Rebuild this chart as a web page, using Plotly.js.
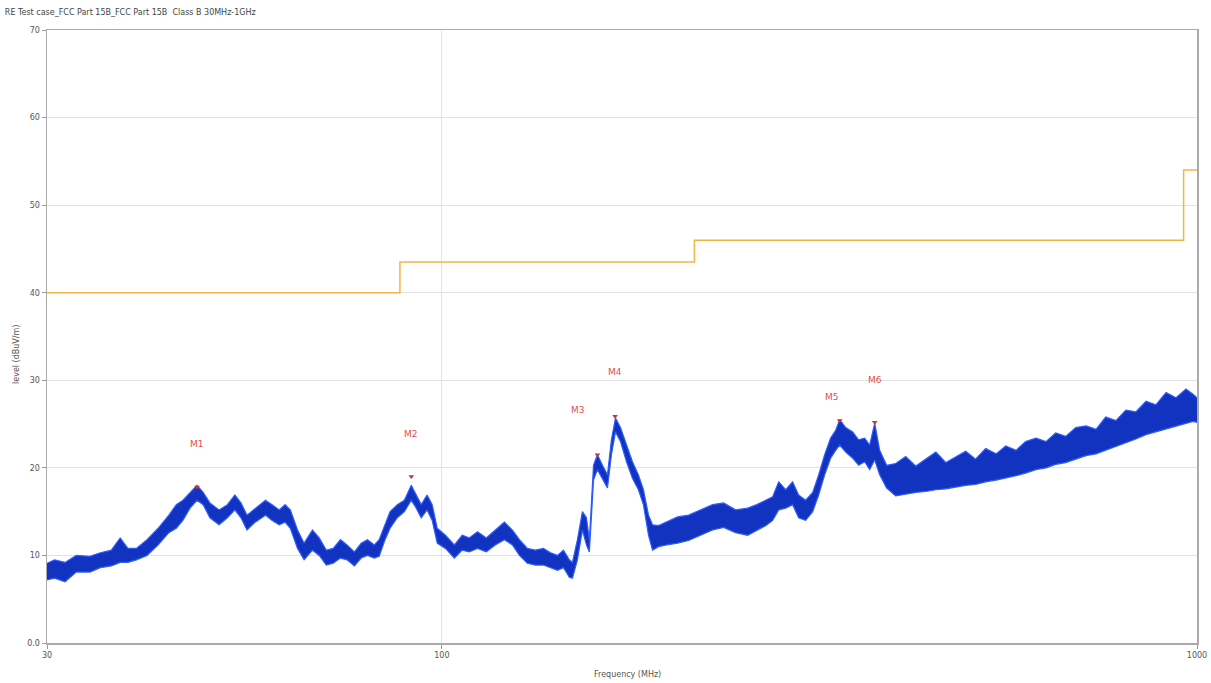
<!DOCTYPE html>
<html>
<head>
<meta charset="utf-8">
<script src="https://cdn.plot.ly/plotly-3.0.1.min.js"></script>
<style>html,body{margin:0;padding:0;background:#fff;}#chart{width:1211px;height:683px;}</style>
</head>
<body>
<div id="chart"></div>
<script>
// Measured trace: frequency (MHz), top and bottom of the noise band (dBuV/m)
const freq = [30,30.7,31.7,32.8,34.2,35.3,36.5,37.5,38.4,39.4,40.7,42.1,43.5,44.5,45.4,46.4,47.4,48.3,49.3,50.7,52.0,53.2,54.2,55.2,56.6,58.4,59.6,60.9,62.0,63.0,64.4,65.7,67.4,68.8,70.3,71.8,73.4,74.9,76.6,78.2,79.7,81.4,82.6,84.1,85.4,87.3,89.2,91.1,92.5,93.9,95.6,97.1,98.6,101.1,103.9,106.4,108.7,111.5,114.5,117.7,121.0,124.0,126.7,129.8,133.0,136.3,139.3,142.3,144.9,147.5,148.9,151.2,153.5,155.4,156.8,158.8,160.7,163.2,165.7,167.7,169.8,172.4,175.6,178.8,182.1,184.9,187.8,190.1,193.6,198.4,205.2,212.2,220.1,228.3,236.1,244.9,254.1,261.2,268.4,274.2,279.3,285.3,291.4,296.8,303.2,309.8,315.5,321.3,327.2,332.3,336.4,342.6,350.0,356.4,363.0,368.6,374.3,380.0,388.2,399.0,411.4,424.3,437.4,451,465,479,494,509,525,542,558,576,593,612,631,650,670,691,713,735,757,781,805,830,856,882,910,938,967,988,1000];
const levelTop = [9.1,9.5,9.2,10.0,9.9,10.3,10.6,12.0,10.8,10.8,11.8,13.1,14.6,15.8,16.3,17.1,18.0,17.2,16.0,15.2,15.8,16.9,16.0,14.6,15.4,16.3,15.8,15.2,15.8,15.2,12.9,11.4,12.9,12.0,10.6,10.8,11.8,11.2,10.4,11.4,11.8,11.2,11.8,13.5,15.0,15.8,16.3,18.0,16.9,15.8,16.9,15.8,13.1,12.3,11.2,12.3,12.0,12.7,12.0,12.9,13.8,12.9,11.8,10.8,10.6,10.8,10.3,10.0,10.6,9.5,9.2,11.8,15.0,14.3,11.8,20.3,21.5,20.3,19.2,23.2,25.7,24.6,22.6,20.7,19.2,17.5,14.6,13.5,13.4,13.8,14.4,14.6,15.2,15.8,16.0,15.2,15.4,15.8,16.3,16.7,18.4,17.5,18.4,16.9,16.3,17.2,19.2,21.5,23.4,24.3,25.5,24.6,24.1,23.2,23.4,22.6,25.1,22.0,20.3,20.5,21.3,20.2,21.0,21.8,20.6,21.2,21.9,21.0,22.2,21.6,22.5,22.0,23.0,23.4,23.0,24.0,23.6,24.6,24.8,24.4,25.8,25.4,26.6,26.4,27.6,27.2,28.6,28.0,29.0,28.4,28.0];
const levelBottom = [7.2,7.4,7.0,8.1,8.1,8.6,8.8,9.2,9.2,9.5,10.0,11.2,12.6,13.1,14.0,15.4,16.3,15.8,14.3,13.5,14.3,15.2,14.3,12.9,13.8,14.6,14.0,13.5,13.8,13.1,10.8,9.5,10.6,10.0,8.9,9.1,9.7,9.5,8.8,9.7,10.0,9.7,9.9,11.8,13.1,14.3,15.0,16.3,15.4,14.3,15.2,14.0,11.4,10.8,9.7,10.6,10.4,10.8,10.4,11.2,11.8,11.2,10.0,9.1,8.9,8.9,8.6,8.3,8.6,7.5,7.4,9.5,12.9,11.2,10.4,18.6,19.8,18.8,17.7,21.5,24.1,23.0,20.7,18.8,17.5,15.8,12.3,10.6,11.0,11.2,11.4,11.7,12.3,12.9,13.2,12.6,12.3,12.9,13.4,14.0,15.2,15.4,15.8,14.3,14.0,15.0,16.9,19.2,21.1,22.0,22.6,21.8,21.1,20.3,20.7,19.8,20.9,19.2,17.7,16.8,17.0,17.2,17.3,17.5,17.6,17.8,18.0,18.1,18.4,18.6,18.8,19.1,19.4,19.8,20.0,20.4,20.6,21.0,21.4,21.6,22.0,22.5,22.9,23.3,23.8,24.1,24.5,24.8,25.1,25.3,25.2];

// FCC Part 15B Class B limit
const limitFreq = [30,88,88,216,216,960,960,1000];
const limitLevel = [40,40,43.5,43.5,46,46,54,54];

// Markers
const markerNames = ['M1','M2','M3','M4','M5','M6'];
const markerFreq = [47.4,91.1,160.7,169.6,336.4,374.3];
const markerLevel = [17.8,19.0,21.5,25.9,25.4,25.2];

// Axis ticks
const yTickVals = [0,10,20,30,40,50,60,70];
const yTickText = ['0.0','10','20','30','40','50','60','70'];
const xTickVals = [30,100,1000];
const xTickText = ['30','100','1000'];

const labelShift = [[0,43],[0,43],[-19,45],[0,44],[-8,24],[0,42]];

const traces = [
  {x: freq, y: levelBottom, type:'scatter', mode:'lines', line:{color:'#2f5cff', width:1.2}, hoverinfo:'skip', showlegend:false},
  {x: freq, y: levelTop, type:'scatter', mode:'lines', line:{color:'#2f5cff', width:1.2}, fill:'tonexty', fillcolor:'#1233c0', showlegend:false},
  {x: limitFreq, y: limitLevel, type:'scatter', mode:'lines', line:{color:'#f2b445', width:1.5}, showlegend:false},
  {x: markerFreq, y: markerLevel, type:'scatter', mode:'markers', marker:{symbol:'triangle-down', size:5, color:'#d03030'}, showlegend:false}
];

const annotations = markerNames.map((n,i)=>({
  x: Math.log10(markerFreq[i]), y: markerLevel[i], xref:'x', yref:'y', text:n, showarrow:false,
  xshift: labelShift[i][0], yshift: labelShift[i][1],
  font:{family:'DejaVu Sans, sans-serif', size:9, color:'#e05050'}
}));
annotations.push({xref:'paper', yref:'paper', x:-0.026, y:0.47, text:'level (dBuV/m)', textangle:-90, showarrow:false, xanchor:'center', yanchor:'middle', font:{family:'DejaVu Sans, sans-serif', size:8, color:'#555'}});
annotations.push({xref:'paper', yref:'paper', x:0.505, y:-0.052, text:'Frequency (MHz)', showarrow:false, xanchor:'center', yanchor:'middle', font:{family:'DejaVu Sans, sans-serif', size:8, color:'#555'}});

const layout = {
  width:1211, height:683,
  margin:{l:47, r:14, t:30, b:40},
  paper_bgcolor:'#fff', plot_bgcolor:'#fff',
  title:{text:'RE Test case_FCC Part 15B_FCC Part 15B  Class B 30MHz-1GHz', x:0.004, xanchor:'left', y:0.982, yanchor:'middle', font:{family:'DejaVu Sans, sans-serif', size:8, color:'#444'}},
  xaxis:{type:'log', range:[Math.log10(30), Math.log10(1000)], tickvals:xTickVals, ticktext:xTickText,
    ticks:'outside', ticklen:4, tickcolor:'#999', showline:true, linecolor:'#aaa', linewidth:1.5, mirror:true,
    showgrid:true, gridcolor:'#e2e2e2', zeroline:false, tickfont:{family:'DejaVu Sans, sans-serif', size:8, color:'#555'}},
  yaxis:{range:[0,70], tickvals:yTickVals, ticktext:yTickText, ticks:'outside', ticklen:4, tickcolor:'#999',
    showline:true, linecolor:'#aaa', linewidth:1.5, mirror:true, showgrid:true, gridcolor:'#e2e2e2', zeroline:false,
    tickfont:{family:'DejaVu Sans, sans-serif', size:8, color:'#555'}},
  annotations: annotations
};

Plotly.newPlot('chart', traces, layout, {displayModeBar:false, staticPlot:true});
</script>
</body>
</html>
